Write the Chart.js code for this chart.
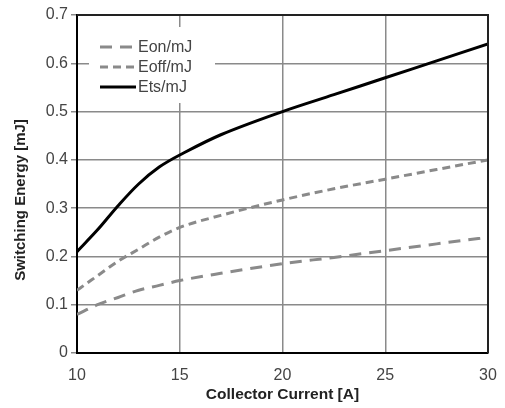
<!DOCTYPE html>
<html>
<head>
<meta charset="utf-8">
<script src="https://cdn.jsdelivr.net/npm/chart.js@4"></script>
<style>
  html, body { margin: 0; padding: 0; background: #fff; }
  #wrap { width: 505px; height: 408px; }
</style>
</head>
<body>
<div id="wrap"><canvas id="energyChart"></canvas></div>
<script>
// Collector current [A]
const currentA = [10, 11, 12, 13, 14, 15, 17, 20, 22.5, 25, 27.5, 30];

// Switching energies [mJ]
const eonValues  = [0.08, 0.10, 0.115, 0.13, 0.14, 0.15, 0.165, 0.185, 0.198, 0.212, 0.226, 0.24];
const eoffValues = [0.13, 0.16, 0.19, 0.215, 0.24, 0.26, 0.285, 0.317, 0.34, 0.36, 0.38, 0.40];
const etsValues  = [0.21, 0.255, 0.305, 0.35, 0.385, 0.41, 0.452, 0.50, 0.535, 0.57, 0.605, 0.64];

const seriesLabels = ['Eon/mJ', 'Eoff/mJ', 'Ets/mJ'];
const xTicks = [10, 15, 20, 25, 30];
const yTicks = [0, 0.1, 0.2, 0.3, 0.4, 0.5, 0.6, 0.7];
const yTitle = 'Switching Energy [mJ]';

const FONT = '"Liberation Sans", Arial, sans-serif';

function points(values) {
  return currentA.map((x, i) => ({ x: x, y: values[i] }));
}

// legend box drawn inside the plot, over the grid
const insideLegend = {
  id: 'insideLegend',
  beforeDatasetsDraw(chart) {
    const ctx = chart.ctx;
    const area = chart.chartArea;
    const x0 = area.left + 12, y0 = area.top + 12;
    ctx.save();
    ctx.fillStyle = '#fff';
    ctx.fillRect(x0, y0, 126, 76);
    chart.data.datasets.forEach((ds, i) => {
      const y = y0 + 20 + i * 20;
      ctx.beginPath();
      ctx.strokeStyle = ds.borderColor;
      ctx.lineWidth = ds.borderWidth;
      ctx.setLineDash(ds.borderDash || []);
      ctx.moveTo(x0 + 11, y);
      ctx.lineTo(x0 + 47, y);
      ctx.stroke();
      ctx.setLineDash([]);
      ctx.fillStyle = '#444';
      ctx.font = '16px ' + FONT;
      ctx.textBaseline = 'middle';
      ctx.fillText(ds.label, x0 + 49, y + 1);
    });
    ctx.restore();
  }
};

// frame on top/right plus the y title, placed like in the original
const frame = {
  id: 'frame',
  afterDraw(chart) {
    const c = chart.ctx, a = chart.chartArea;
    c.save();
    c.strokeStyle = '#222';
    c.lineWidth = 2;
    c.beginPath();
    c.moveTo(a.left, a.top);
    c.lineTo(a.right, a.top);
    c.lineTo(a.right, a.bottom);
    c.stroke();
    c.translate(21, a.top + 185);
    c.rotate(-Math.PI / 2);
    c.fillStyle = '#222';
    c.font = 'bold 15px ' + FONT;
    c.textAlign = 'center';
    c.textBaseline = 'middle';
    c.fillText(yTitle, 0, 0);
    c.restore();
  }
};

const ctx = document.getElementById('energyChart');
new Chart(ctx, {
  type: 'line',
  data: {
    datasets: [
      {
        label: seriesLabels[0],
        data: points(eonValues),
        borderColor: '#8a8a8a',
        borderWidth: 3,
        borderDash: [12, 8],
        pointRadius: 0,
        cubicInterpolationMode: 'monotone'
      },
      {
        label: seriesLabels[1],
        data: points(eoffValues),
        borderColor: '#8a8a8a',
        borderWidth: 3,
        borderDash: [8, 5],
        pointRadius: 0,
        cubicInterpolationMode: 'monotone'
      },
      {
        label: seriesLabels[2],
        data: points(etsValues),
        borderColor: '#000',
        borderWidth: 3,
        pointRadius: 0,
        tension: 0.35
      }
    ]
  },
  options: {
    responsive: true,
    maintainAspectRatio: false,
    animation: false,
    layout: { padding: { top: 15, right: 17, left: 0, bottom: 0 } },
    plugins: {
      legend: { display: false },
      tooltip: { enabled: false }
    },
    scales: {
      x: {
        type: 'linear',
        min: 10,
        max: 30,
        afterBuildTicks: (scale) => { scale.ticks = xTicks.map(v => ({ value: v })); },
        afterFit: (scale) => {
          scale.height = 55;
          scale.paddingLeft = 0;
          scale.paddingRight = 0;
        },
        grid: { color: '#8a8a8a', lineWidth: 1.5, drawTicks: false },
        border: { color: '#000', width: 2 },
        ticks: { color: '#444', font: { family: FONT, size: 16 }, padding: 13 },
        title: {
          display: true,
          text: 'Collector Current [A]',
          color: '#222',
          font: { family: FONT, size: 15.5, weight: 'bold' },
          padding: { top: 3 }
        }
      },
      y: {
        min: 0,
        max: 0.7,
        afterBuildTicks: (scale) => { scale.ticks = yTicks.map(v => ({ value: v })); },
        afterFit: (scale) => { scale.width = 77; },
        grid: { color: '#8a8a8a', lineWidth: 1.5, tickLength: 6 },
        border: { color: '#000', width: 2 },
        ticks: { color: '#444', font: { family: FONT, size: 16 }, padding: 3 },
        title: { display: false }
      }
    }
  },
  plugins: [insideLegend, frame]
});
</script>
</body>
</html>
